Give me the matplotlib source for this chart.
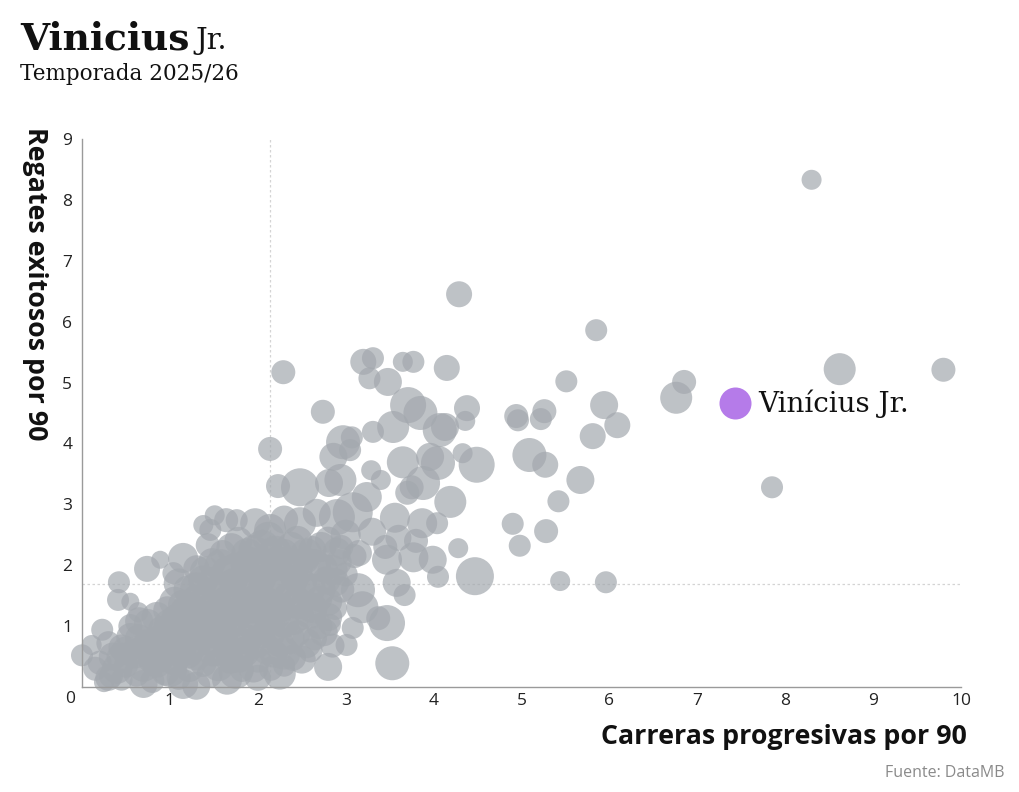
import matplotlib
matplotlib.use("Agg")
import matplotlib.pyplot as plt

# ---------------- data ----------------
carreras = [
    8.30, 4.29, 5.85, 8.62, 9.80, 6.85, 6.76, 7.85, 5.51, 5.94, 6.09, 5.81, 5.26, 5.22, 4.94, 4.96,
    5.09, 5.27, 5.67, 5.42, 4.90, 5.28, 4.98, 5.44, 5.96, 4.47, 4.28, 4.38, 4.36, 4.19, 4.49,
    2.29, 2.74, 2.14, 3.20, 3.31, 3.27, 3.48, 3.65, 3.77, 4.15, 3.71, 3.85, 3.54, 3.31, 2.97, 3.07,
    3.05, 4.07, 4.13, 3.65, 3.96, 4.05, 4.33, 2.86, 2.81, 2.94, 2.48, 2.23, 3.29, 3.40, 3.24, 3.70,
    3.75, 3.88, 3.08, 2.90, 3.56, 3.87, 4.04, 2.67, 2.48, 2.14, 1.97, 3.77, 3.99, 3.47, 4.05, 3.58,
    3.67, 3.14, 3.47, 3.37, 3.08, 3.01, 3.19, 3.53, 2.80, 2.82, 2.40, 3.30, 3.60, 3.45, 3.15, 3.00, 3.80,
    0.25, 0.33, 0.45, 0.62, 0.80, 0.95, 1.10, 1.30, 1.45, 1.65, 1.82, 2.00, 2.15, 2.30,
    0.00, 0.20, 0.35, 0.50, 0.60, 0.78, 0.92, 1.05, 1.20, 1.38, 1.50, 1.68, 1.85, 2.00, 2.18, 2.60,
    0.11, 0.30, 0.45, 0.65, 0.85, 1.00, 1.15, 1.32, 1.50, 1.70, 1.88, 2.05, 2.25, 2.45, 2.65, 2.85,
    0.23, 0.55, 0.75, 0.90, 1.08, 1.25, 1.42, 1.60, 1.78, 1.95, 2.12, 2.30, 2.50, 2.70,
    0.41, 0.55, 0.64, 0.97, 1.15, 1.30, 1.48, 1.65, 1.82, 2.00, 2.15, 2.35, 2.52, 2.70, 2.88,
    0.42, 1.04, 1.20, 1.38, 1.55, 1.72, 1.90, 2.05, 2.25, 2.42, 2.60, 2.78, 2.95,
    0.74, 0.89, 1.15, 1.30, 1.48, 1.65, 1.85, 2.00, 2.20, 2.38, 2.55, 2.75, 2.92, 3.00,
    1.43, 1.60, 1.78, 1.95, 2.12, 2.30, 2.45, 2.62, 2.80, 2.95, 3.10,
    1.38, 1.51, 1.46, 1.64, 1.76, 2.30,
    0.40, 0.70, 1.00, 1.22, 1.55, 1.75, 1.95, 2.25,
    0.45, 0.72, 0.85, 1.12, 1.30, 1.60, 1.78, 2.10, 2.30, 2.50,
    0.55, 0.75, 0.95, 1.25, 1.40, 1.60, 1.80, 2.00, 2.15, 2.35, 2.55, 2.75,
    0.65, 0.85, 1.00, 1.18, 1.35, 1.52, 1.70, 1.88, 2.05, 2.20, 2.40, 2.60, 2.80,
    1.05, 1.22, 1.40, 1.58, 1.75, 1.92, 2.08, 2.25, 2.45, 2.62, 2.80,
    1.10, 1.30, 1.48, 1.65, 1.82, 2.00, 2.15, 2.35, 2.50, 2.70, 2.88,
    1.40, 1.58, 1.75, 1.92, 2.10, 2.28, 2.45, 2.65, 2.85,
    1.70, 1.88, 2.05, 2.20, 2.38, 2.55, 2.72, 2.90,
    0.15, 0.50, 0.30, 0.70, 1.15, 0.85,
]
regates = [
    8.33, 6.45, 5.86, 5.22, 5.21, 5.01, 4.75, 3.28, 5.02, 4.63, 4.30, 4.12, 4.53, 4.40, 4.45, 4.38,
    3.81, 3.65, 3.40, 3.05, 2.68, 2.56, 2.32, 1.74, 1.72, 1.82, 2.28, 4.58, 4.37, 3.04, 3.65,
    5.17, 4.52, 3.91, 5.34, 5.40, 5.07, 5.01, 5.34, 5.34, 5.24, 4.63, 4.50, 4.27, 4.19, 4.02, 4.10,
    3.89, 4.22, 4.27, 3.69, 3.78, 3.68, 3.84, 3.78, 3.35, 3.40, 3.28, 3.30, 3.56, 3.40, 3.12, 3.19,
    3.28, 3.35, 2.87, 2.79, 2.78, 2.69, 2.69, 2.86, 2.69, 2.58, 2.69, 2.13, 2.09, 2.09, 1.81, 1.71,
    1.51, 1.59, 1.05, 1.13, 0.97, 0.69, 1.31, 0.39, 0.33, 1.02, 0.48, 2.55, 2.45, 2.30, 2.20, 2.50, 2.40,
    0.08, 0.18, 0.12, 0.22, 0.10, 0.25, 0.15, 0.02, 0.20, 0.12, 0.28, 0.15, 0.30, 0.35,
    0.52, 0.40, 0.50, 0.35, 0.55, 0.45, 0.60, 0.42, 0.55, 0.38, 0.60, 0.45, 0.58, 0.45, 0.55, 0.60,
    0.69, 0.72, 0.65, 0.80, 0.75, 0.88, 0.70, 0.85, 0.75, 0.90, 0.78, 0.85, 0.72, 0.88, 0.80, 0.68,
    0.94, 1.00, 1.05, 0.95, 1.10, 1.00, 1.15, 1.05, 1.18, 1.00, 1.12, 1.05, 1.15, 1.00,
    1.43, 1.40, 1.23, 1.26, 1.35, 1.45, 1.30, 1.42, 1.30, 1.45, 1.32, 1.48, 1.35, 1.45, 1.30,
    1.72, 1.87, 1.60, 1.75, 1.60, 1.72, 1.60, 1.78, 1.65, 1.78, 1.62, 1.75, 1.60,
    1.94, 2.09, 2.12, 1.95, 2.05, 1.90, 2.02, 1.92, 2.05, 1.95, 2.08, 1.95, 2.05, 1.85,
    2.33, 2.20, 2.40, 2.25, 2.45, 2.20, 2.40, 2.25, 2.42, 2.30, 2.15,
    2.66, 2.82, 2.58, 2.74, 2.74, 2.75,
    0.30, 0.35, 0.28, 0.33, 0.36, 0.25, 0.32, 0.22,
    0.48, 0.62, 0.50, 0.58, 0.52, 0.62, 0.50, 0.62, 0.55, 0.45,
    0.82, 0.70, 0.78, 0.72, 0.88, 0.82, 0.70, 0.75, 0.90, 0.80, 0.72, 0.90,
    1.08, 1.15, 1.02, 1.20, 1.05, 1.18, 1.08, 1.22, 1.05, 1.20, 1.10, 1.22, 1.15,
    1.40, 1.30, 1.38, 1.28, 1.40, 1.32, 1.40, 1.30, 1.38, 1.30, 1.40,
    1.70, 1.62, 1.72, 1.62, 1.68, 1.62, 1.72, 1.62, 1.70, 1.60, 1.72,
    1.90, 2.00, 1.92, 2.05, 1.95, 2.02, 1.90, 2.00, 1.92,
    2.28, 2.18, 2.30, 2.22, 2.30, 2.18, 2.30, 2.22,
    0.30, 0.60, 0.15, 0.05, 0.05, 0.40,
]
minutos = [
    500, 845, 605, 1280, 720, 720, 1280, 605, 605, 980, 845, 845, 720, 605, 720, 605,
    1445, 845, 980, 605, 605, 720, 605, 500, 605, 1805, 500, 845, 500, 1280, 1620,
    720, 720, 720, 845, 605, 605, 980, 500, 605, 845, 1620, 1445, 1280, 605, 1445, 605,
    605, 1445, 980, 1280, 980, 1445, 500, 980, 980, 1280, 1805, 720, 500, 500, 1125, 720,
    720, 1445, 2000, 1620, 1125, 1125, 605, 980, 1280, 1280, 1125, 1125, 980, 1125, 605, 980,
    605, 1445, 1620, 720, 605, 605, 1280, 1445, 980, 605, 845, 980, 845, 720, 845, 1125, 720,
    500, 720, 605, 845, 720, 980, 720, 980, 845, 1125, 720, 845, 720, 605,
    605, 720, 980, 720, 1125, 845, 1280, 980, 1125, 845, 1280, 980, 1125, 845, 980, 720,
    500, 720, 845, 980, 1125, 1280, 980, 1125, 1280, 980, 1125, 845, 980, 845, 720, 720,
    605, 720, 980, 845, 1280, 1125, 1280, 1125, 980, 1125, 980, 1125, 845, 845,
    605, 405, 500, 980, 1125, 980, 1280, 1125, 980, 1280, 980, 1125, 980, 845, 720,
    605, 605, 980, 1125, 1125, 980, 1280, 980, 1125, 980, 1125, 980, 845,
    845, 405, 1125, 845, 980, 1125, 980, 980, 1125, 980, 845, 980, 845, 720,
    720, 845, 980, 1125, 1280, 980, 1125, 980, 845, 720, 720,
    500, 500, 605, 720, 605, 980,
    1125, 1280, 1445, 1125, 1280, 1445, 1125, 1280,
    1125, 1280, 1445, 1280, 1125, 1445, 1280, 1125, 1280, 980,
    980, 1125, 1280, 1445, 1280, 1125, 1445, 1280, 1125, 1280, 1125, 980,
    980, 1125, 1280, 1445, 1280, 1125, 1445, 1280, 1125, 1280, 1125, 1280, 980,
    1125, 1280, 1445, 1125, 1280, 1445, 1280, 1125, 1280, 1125, 980,
    1125, 1280, 1125, 1445, 1280, 1125, 1280, 1445, 1125, 1280, 980,
    1125, 1280, 1445, 1125, 1280, 1445, 1125, 1280, 1125,
    1125, 1280, 1445, 1280, 1125, 1280, 1125, 980,
    720, 980, 845, 980, 1125, 1125,
]

destacado = "Vinícius Jr."
destacado_x = 7.43
destacado_y = 4.66
destacado_min = 1280

media_x = 2.14
media_y = 1.69

xticks = [1, 2, 3, 4, 5, 6, 7, 8, 9, 10]
yticks = [1, 2, 3, 4, 5, 6, 7, 8, 9]

# ---------------- figure ----------------
fig = plt.figure(figsize=(10.2, 7.92), dpi=100)
W, H = 1020, 792
ax = fig.add_axes([82 / W, 1 - 687 / H, (961 - 82) / W, (687 - 139) / H])

SIZE_K = 0.415
ax.axvline(media_x, color="#d4d4d4", lw=0.9, ls=(0, (2, 2)), zorder=1)
ax.axhline(media_y, color="#d4d4d4", lw=0.9, ls=(0, (2, 2)), zorder=1)

ax.scatter(carreras, regates, s=[m * SIZE_K for m in minutos], color="#A3A8AE",
           alpha=0.7, linewidths=0, zorder=2, clip_on=False)
ax.scatter([destacado_x], [destacado_y], s=[destacado_min * SIZE_K], color="#B57BE9",
           linewidths=0, zorder=3, clip_on=False)
ax.annotate(destacado, (destacado_x, destacado_y), xytext=(17, 0), textcoords="offset points",
            va="center", ha="left", fontsize=20, family="DejaVu Serif", color="#111111")

ax.set_xlim(0, 10)
ax.set_ylim(0, 9)
ax.set_xticks(xticks)
ax.set_yticks(yticks)
ax.set_xticklabels([str(t) for t in xticks])
ax.set_yticklabels([str(t) for t in yticks])
ax.tick_params(axis="both", length=0, labelsize=12.5, labelcolor="#222222")
ax.tick_params(axis="x", pad=4)
ax.tick_params(axis="y", pad=7)
for lab in ax.get_xticklabels() + ax.get_yticklabels():
    lab.set_family("Open Sans")
ax.text(-7 / 879, -12 / 548, "0", transform=ax.transAxes, ha="right", va="center",
        fontsize=12.5, family="Open Sans", color="#222222")

for sp in ["top", "right"]:
    ax.spines[sp].set_visible(False)
for sp in ["left", "bottom"]:
    ax.spines[sp].set_color("#9a9a9a")
    ax.spines[sp].set_linewidth(1.0)

fig.text(967 / W, 1 - 737 / H, "Carreras progresivas por 90", ha="right", va="center",
         fontsize=19.3, fontweight="bold", family="Open Sans", color="#111111")
fig.text(35 / W, 1 - 127 / H, "Regates exitosos por 90", ha="center", va="top", rotation=-90,
         fontsize=19.3, fontweight="bold", family="Open Sans", color="#111111")

fig.text(20 / W, 1 - 50 / H, "Vinicius", ha="left", va="baseline", fontsize=27,
         fontweight="bold", family="DejaVu Serif", color="#111111")
fig.text(195 / W, 1 - 49 / H, "Jr.", ha="left", va="baseline", fontsize=21,
         family="DejaVu Serif", color="#111111")
fig.text(20 / W, 1 - 80 / H, "Temporada 2025/26", ha="left", va="baseline", fontsize=15.5,
         family="DejaVu Serif", color="#111111")
fig.text(1005 / W, 1 - 773 / H, "Fuente: DataMB", ha="right", va="center", fontsize=11.5,
         family="Open Sans", color="#8a8a8a")

fig.savefig("out.png", dpi=100, facecolor="white")
